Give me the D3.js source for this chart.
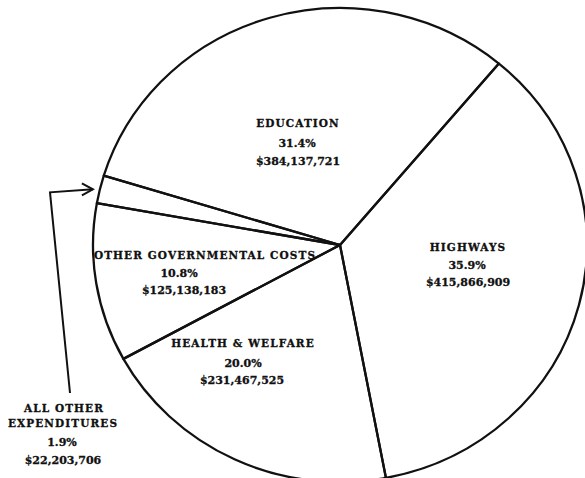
<!DOCTYPE html>
<html>
<head>
<meta charset="utf-8">
<script src="https://cdn.jsdelivr.net/npm/d3@7"></script>
<style>
  html, body { margin: 0; padding: 0; background: #ffffff; }
  svg { display: block; }
  .lbl { font-family: "DejaVu Serif", serif; font-weight: bold; fill: #111; stroke: #111; stroke-width: 0.3; }
</style>
</head>
<body>
<svg id="chart" width="585" height="478"></svg>
<script>
// Expenditure categories, shares (percent) and dollar amounts
const categories = ["EDUCATION", "HIGHWAYS", "HEALTH & WELFARE", "OTHER GOVERNMENTAL COSTS", "ALL OTHER EXPENDITURES"];
const percents = [31.4, 35.9, 20.0, 10.8, 1.9];
const amounts = ["$384,137,721", "$415,866,909", "$231,467,525", "$125,138,183", "$22,203,706"];
// How each category name is broken across lines
const nameLines = [["EDUCATION"], ["HIGHWAYS"], ["HEALTH & WELFARE"], ["OTHER GOVERNMENTAL COSTS"], ["ALL OTHER", "EXPENDITURES"]];

// Geometry of the (slightly flattened) pie
const cx = 340, cy = 245, rx = 247, ry = 237;
const startDeg = -73;

// Label placement: x centre per line and baseline per line
const labelLayout = [
  { x: [298, 297, 298], y: [127, 147, 165] },
  { x: [468, 467, 468], y: [251, 269, 286] },
  { x: [243, 243, 242], y: [347, 367, 384] },
  { x: [205, 179, 184], y: [259, 277, 294] },
  { x: [64, 63, 62, 63], y: [412, 427, 446, 464] }
];

const svg = d3.select("#chart");
const toRad = d => d * Math.PI / 180;

const pie = d3.pie()
  .sort(null)
  .value(d => d)
  .startAngle(toRad(startDeg))
  .endAngle(toRad(startDeg) + 2 * Math.PI);

const arcs = pie(percents);
const arcGen = d3.arc().innerRadius(0).outerRadius(rx);

const g = svg.append("g")
  .attr("transform", `translate(${cx},${cy}) scale(1,${ry / rx})`);

g.selectAll("path.slice")
  .data(arcs)
  .enter()
  .append("path")
  .attr("class", "slice")
  .attr("d", arcGen)
  .attr("fill", "none")
  .attr("stroke", "#111")
  .attr("stroke-width", 2.3)
  .attr("stroke-linejoin", "round")
  .attr("vector-effect", "non-scaling-stroke");

// Labels
const pct = d3.format(".1f");
categories.forEach((c, i) => {
  const lines = nameLines[i].concat([pct(percents[i]) + "%", amounts[i]]);
  const lay = labelLayout[i];
  lines.forEach((t, j) => {
    const isCaps = j < nameLines[i].length;
    svg.append("text")
      .attr("class", "lbl")
      .attr("x", lay.x[j])
      .attr("y", lay.y[j])
      .attr("text-anchor", "middle")
      .attr("font-size", isCaps ? 10.5 : 11)
      .attr("letter-spacing", isCaps ? 1.1 : 0)
      .text(t);
  });
});

// Arrow from the small-slice label to its wedge on the rim
const small = arcs[4];
const midA = (small.startAngle + small.endAngle) / 2;
const rimX = cx + rx * Math.sin(midA);
const rimY = cy - ry * Math.cos(midA);
const tipX = rimX - 7, tipY = rimY;

svg.append("path")
  .attr("d", `M70,393 L50,${tipY + 3} L${tipX},${tipY}`)
  .attr("fill", "none")
  .attr("stroke", "#111")
  .attr("stroke-width", 2)
  .attr("stroke-linejoin", "miter");

svg.append("path")
  .attr("d", `M${tipX - 11},${tipY - 6} L${tipX},${tipY} L${tipX - 11},${tipY + 6}`)
  .attr("fill", "none")
  .attr("stroke", "#111")
  .attr("stroke-width", 2);
</script>
</body>
</html>
